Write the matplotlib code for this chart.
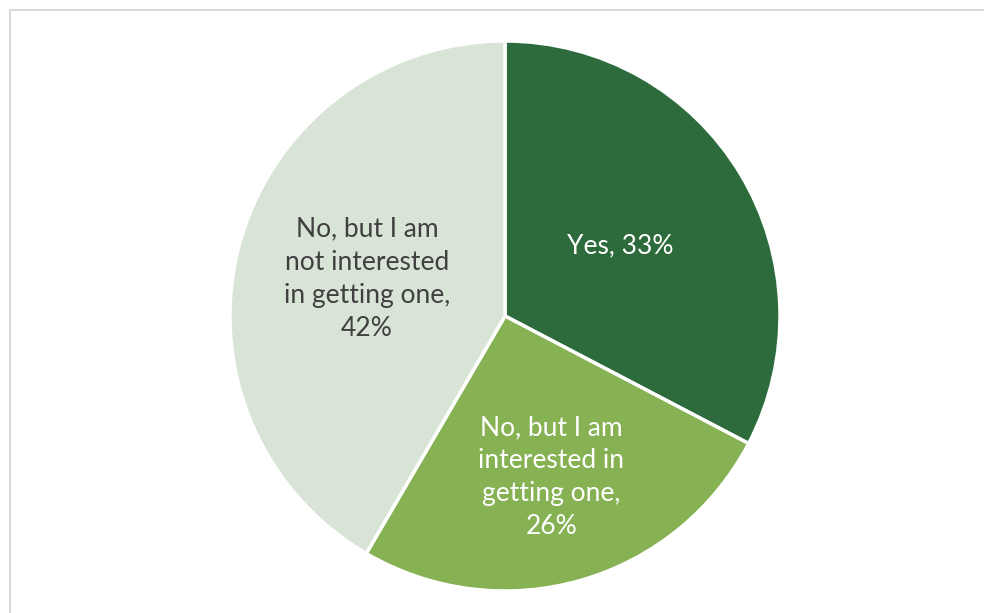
import numpy as np
import matplotlib.pyplot as plt
from matplotlib.patches import Rectangle

labels = ['Yes', 'No, but I am\ninterested in\ngetting one', 'No, but I am\nnot interested\nin getting one']
values = [33, 26, 42]
colors = ['#2D6B3C', '#86B254', '#D8E4D5']
text_colors = ['white', 'white', '#404040']
label_dist = [0.49, 0.61, 0.52]

W, H = 984, 613
fig = plt.figure(figsize=(W / 100, H / 100), dpi=100)
ax = fig.add_axes([0, 0, 1, 1])

# chart area border (cropped on the right and bottom)
ax.add_patch(Rectangle((10, -20), W + 20, H - 10 + 20, fill=False,
                       edgecolor='#D9D9D9', linewidth=1.5))

cx, cy, r = 505, H - 316, 275
wedges, _ = ax.pie(values, colors=colors, startangle=90, counterclock=False,
                   center=(cx, cy), radius=r, frame=True,
                   wedgeprops=dict(edgecolor='white', linewidth=2.5))
ax.set_xlim(0, W)
ax.set_ylim(0, H)
ax.axis('off')

total = sum(values)
for w, lab, v, tc, d in zip(wedges, labels, values, text_colors, label_dist):
    mid = np.deg2rad((w.theta1 + w.theta2) / 2)
    x = cx + d * r * np.cos(mid)
    y = cy + d * r * np.sin(mid)
    pct = round(100 * v / total)
    txt = f'{lab},\n{pct}%' if '\n' in lab else f'{lab}, {pct}%'
    ax.text(x, y, txt, ha='center', va='center', color=tc, fontsize=19,
            family='Lato', linespacing=1.4)

fig.savefig('out.png', dpi=100)
